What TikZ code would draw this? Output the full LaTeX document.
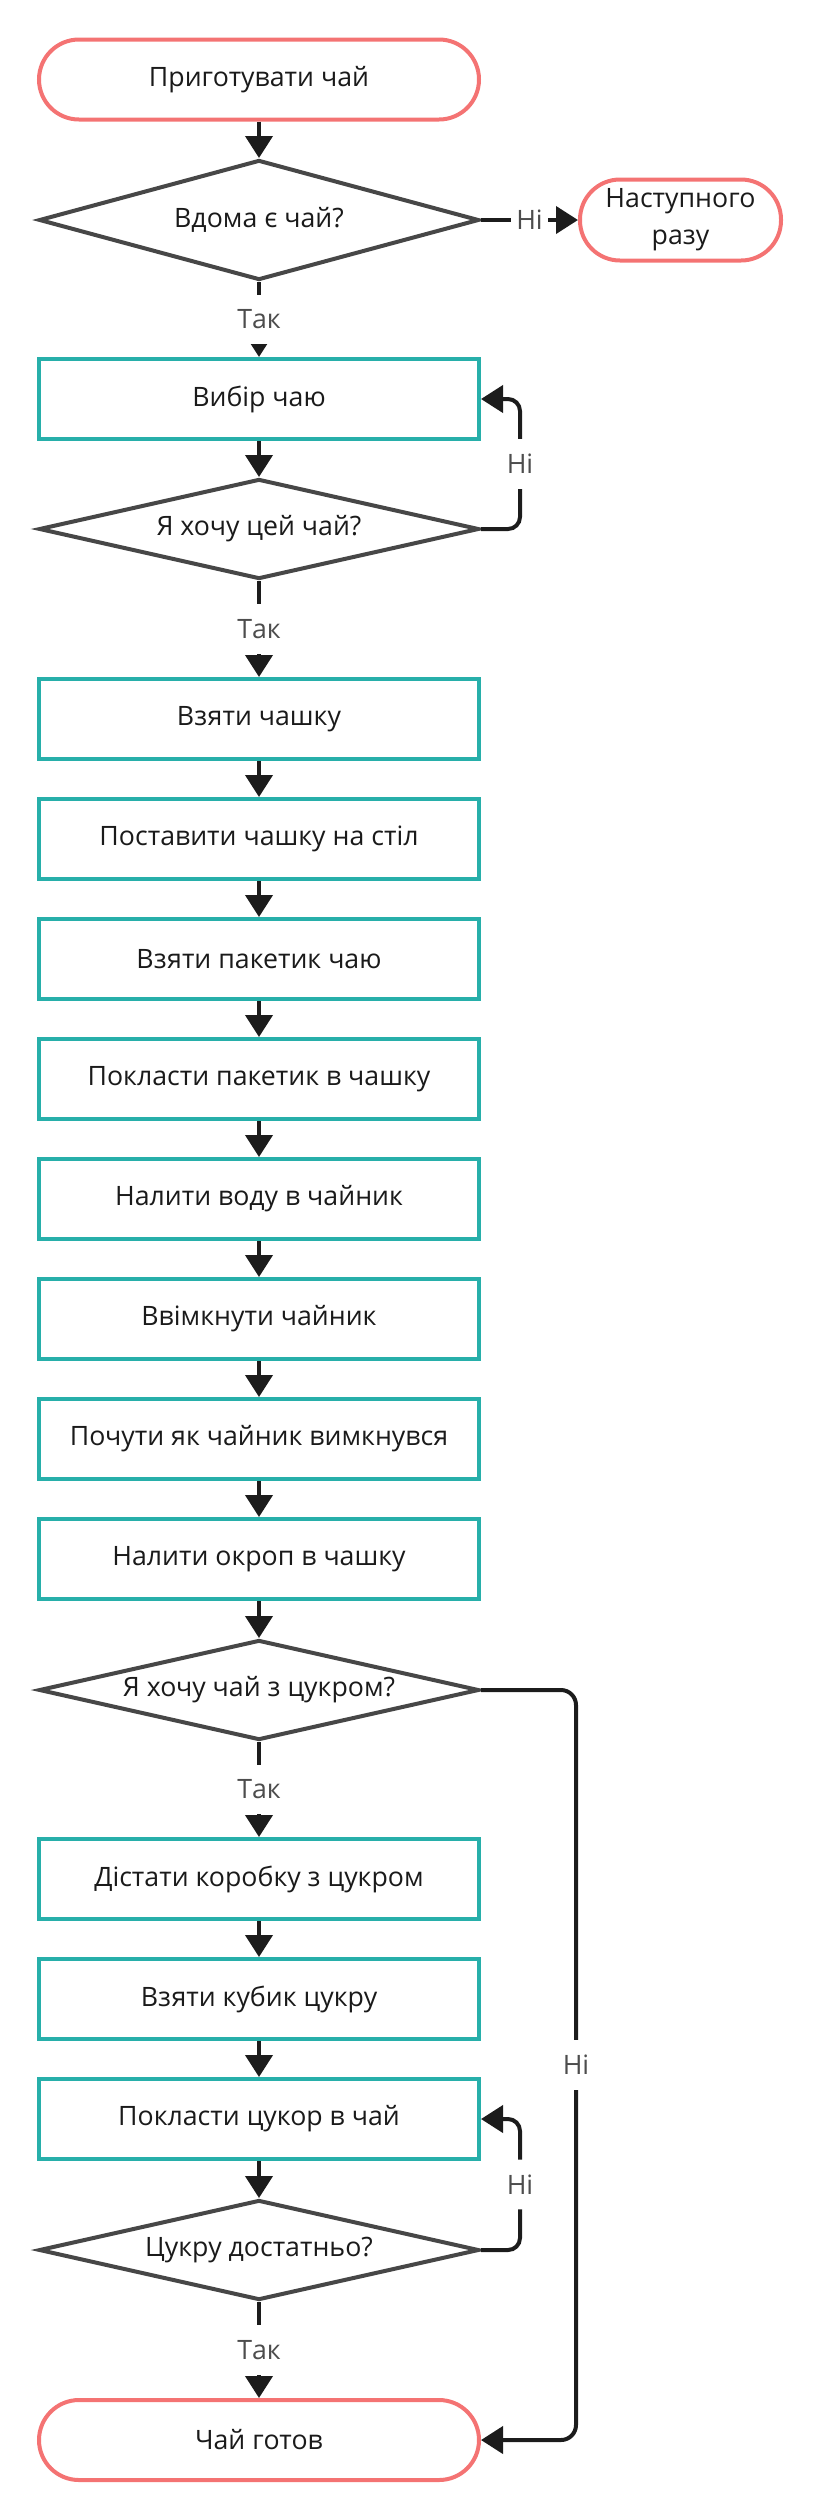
\documentclass[tikz,border=0pt]{standalone}
\usepackage{fontspec}
\setmainfont{Open Sans}
\usetikzlibrary{shapes.geometric}
\usetikzlibrary{arrows.meta}
\usetikzlibrary{positioning}

\definecolor{termred}{HTML}{F47373}
\definecolor{proccyan}{HTML}{27AFAA}
\definecolor{decgray}{HTML}{474747}
\definecolor{flowblack}{HTML}{1C1C1C}
\definecolor{lblgray}{HTML}{4D4D4D}
\definecolor{nodetext}{HTML}{1A1A1A}

\begin{document}
\begin{tikzpicture}
[x=1pt,y=-1pt,node distance=120pt,on grid,>={Triangle[length=22pt,width=27pt]},%
  every node/.style={font=\fontsize{26.7}{37}\selectfont,text=nodetext},
  term/.style={draw=termred,line width=4pt,rounded corners=40pt,minimum width=440pt,minimum height=80pt},
  proc/.style={draw=proccyan,line width=4pt,minimum width=440pt,minimum height=80pt},
  decision/.style={diamond,draw=decgray,line width=4pt,aspect=4,inner sep=0pt,minimum width=440pt,minimum height=100pt},
  lbl/.style={fill=white,text=lblgray,inner xsep=5pt,inner ysep=15pt},
  flow/.style={->,draw=flowblack,line width=4pt},
  every edge/.style={flow}]
\useasboundingbox (0,0) rectangle (821,2520);
%% nodes
\node[term] (start) at (259,79.5) {Приготувати чай};
\node[decision,minimum height=120pt] (home) [below=140.5pt of start] {Вдома є чай?};
\node[term,minimum width=201pt,minimum height=81pt,align=center] (later) [right=421.5pt of home] {Наступного\\разу};
\node[proc] (choose) [below=179pt of home] {Вибір чаю};
\node[decision] (want) [below=130pt of choose] {Я хочу цей чай?};
\node[proc] (cup) [below=190pt of want] {Взяти чашку};
\node[proc] (table) [below=of cup] {Поставити чашку на стіл};
\node[proc] (bag) [below=of table] {Взяти пакетик чаю};
\node[proc] (bagin) [below=of bag] {Покласти пакетик в чашку};
\node[proc] (water) [below=of bagin] {Налити воду в чайник};
\node[proc] (kettle) [below=of water] {Ввімкнути чайник};
\node[proc] (hear) [below=of kettle] {Почути як чайник вимкнувся};
\node[proc] (pour) [below=of hear] {Налити окроп в чашку};
\node[decision] (sugar) [below=131pt of pour] {Я хочу чай з цукром?};
\node[proc] (box) [below=189pt of sugar] {Дістати коробку з цукром};
\node[proc] (cube) [below=of box] {Взяти кубик цукру};
\node[proc] (put) [below=of cube] {Покласти цукор в чай};
\node[decision] (enough) [below=131pt of put] {Цукру достатньо?};
\node[term] (done) [below=190pt of enough] {Чай готов};
\coordinate[right=261pt of choose] (loopA);
\coordinate[right=261pt of put] (loopB);
\coordinate[right=317pt of sugar] (skip);
%% edges
\path
(start) edge (home)
(home) edge node[lbl] {Ні} (later)
(home) edge node[lbl] {Так} (choose)
(choose) edge (want)
(want) edge node[lbl] {Так} (cup)
(cup) edge (table)
(table) edge (bag)
(bag) edge (bagin)
(bagin) edge (water)
(water) edge (kettle)
(kettle) edge (hear)
(hear) edge (pour)
(pour) edge (sugar)
(sugar) edge node[lbl] {Так} (box)
(box) edge (cube)
(cube) edge (put)
(put) edge (enough)
(enough) edge node[lbl] {Так} (done);
\draw[flow,rounded corners=12pt] (want.east) -| node[lbl,pos=0.75] {Ні} (loopA) -- (choose.east);
\draw[flow,rounded corners=12pt] (enough.east) -| node[lbl,pos=0.75] {Ні} (loopB) -- (put.east);
\draw[flow,rounded corners=15pt] (sugar.east) -- (skip) -- node[lbl] {Ні} (skip |- done.east) -- (done.east);
\end{tikzpicture}
\end{document}
